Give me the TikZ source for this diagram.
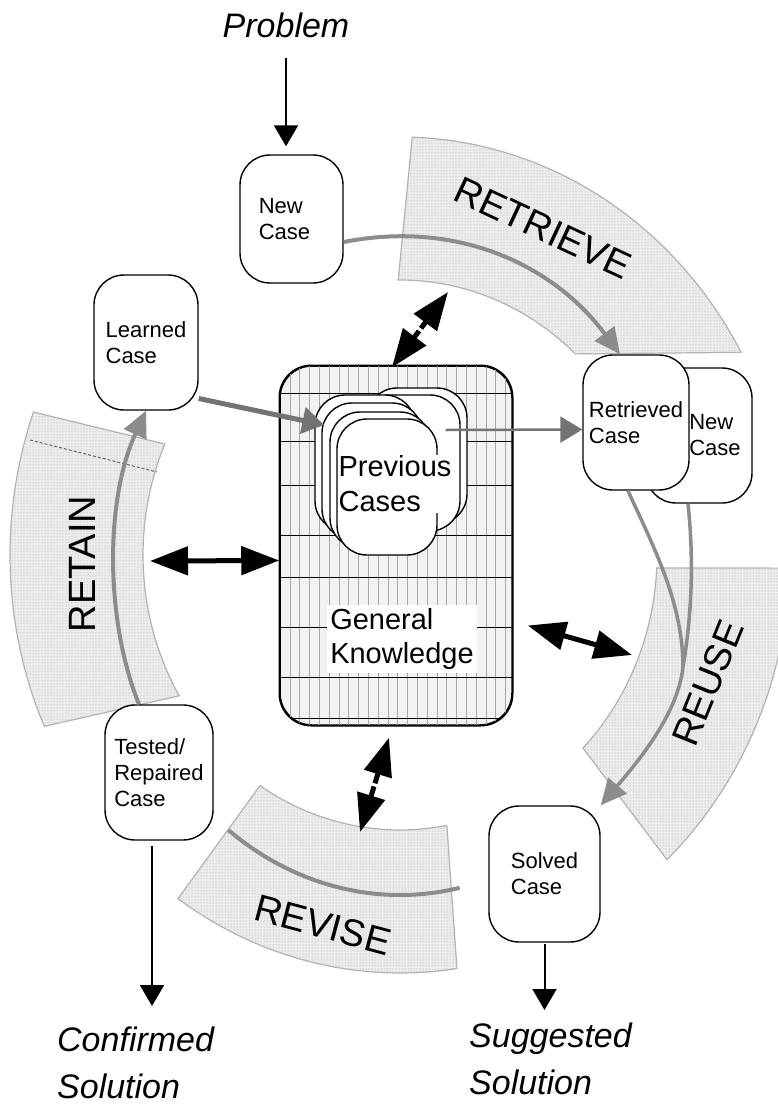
\documentclass[tikz,border=0pt]{standalone}
\usepackage{fontspec}
\setmainfont{Liberation Sans}
\usetikzlibrary{arrows.meta,calc,patterns}

\tikzset{
  caixa/.style={draw, line width=1.4pt, rounded corners=30pt, fill=white,
    align=left, font=\fontsize{22}{26}\selectfont},
  pilha/.style={draw, line width=1.4pt, rounded corners=30pt, fill=white,
    minimum width=100pt, minimum height=136pt},
  faixa/.style={preaction={fill=black!7}, pattern=dots, pattern color=black!40,
    draw=black!30, line width=1.2pt},
  fluxo/.style={draw=black!45, line width=4pt},
  pontafluxo/.style={-{Triangle[length=26pt,width=24pt]}},
  seta/.style={draw=black!55, -{Triangle[length=22pt,width=26pt]}},
  saida/.style={line width=2pt, -{Triangle[length=21pt,width=24pt]}},
  duplo/.style={line width=5pt, {Triangle[length=38pt,width=28pt]}-{Triangle[length=38pt,width=28pt]}},
  rotulo/.style={font=\fontsize{38}{38}\selectfont},
  texto/.style={font=\itshape\fontsize{34}{47}\selectfont, align=left, inner sep=0pt},
}

\begin{document}
\begin{tikzpicture}[x=1pt, y=-1pt]
  \useasboundingbox (0,0) rectangle (777,1107);

  %faixas do ciclo
  \begin{scope}[shift={(400,555)}, yscale=-1]
    \path[faixa] (88.2:390 and 418) arc[start angle=88.2, end angle=29, x radius=390, y radius=418]
      -- (47:257 and 275) arc[start angle=47, end angle=90.4, x radius=257, y radius=275] -- cycle;
    \path[faixa] (-1.8:390 and 418) arc[start angle=-1.8, end angle=-46.8, x radius=390, y radius=418]
      -- (-44.6:257 and 275) arc[start angle=-44.6, end angle=-2.7, x radius=257, y radius=275] -- cycle;
    \path[faixa] (-124.7:390 and 418) arc[start angle=-124.7, end angle=-81.6, x radius=390, y radius=418]
      -- (-79.5:257 and 275) arc[start angle=-79.5, end angle=-123, x radius=257, y radius=275] -- cycle;
    \path[faixa] (160:390 and 418) arc[start angle=160, end angle=204.2, x radius=390, y radius=418]
      -- (210.8:257 and 275) arc[start angle=210.8, end angle=156.2, x radius=257, y radius=275] -- cycle;
    %linha do revise
    \draw[fluxo] (-126:292 and 340) arc[start angle=-126, end angle=-78.2, x radius=292, y radius=340];
  \end{scope}
  \draw[black!60, line width=1pt, dash pattern=on 3pt off 2pt] (30,440) -- (157,472);

  \node[rotulo, rotate=-25] (retrieve) at (543,228) {RETRIEVE};
  \node[rotulo, rotate=68] (reuse) at (708,683) {REUSE};
  \node[rotulo, rotate=-15] (revise) at (323,925) {REVISE};
  \node[rotulo, rotate=90] (retain) at (82,564) {RETAIN};

  %conhecimento geral
  \node[draw, line width=1.5pt, rounded corners=32pt, fill=black!5,
    minimum width=232pt, minimum height=359pt] (gk) at (396,545.5) {};
  \begin{scope}
    \clip[rounded corners=32pt] (gk.north west) rectangle (gk.south east);
    \foreach \x in {290,299.8,...,507} \draw[black!35, line width=0.8pt] (\x,366) -- (\x,725);
    \foreach \y in {393,441,485,535,577,627,677,718} \draw[line width=1pt] (280,\y) -- (512,\y);
  \end{scope}
  \draw[line width=1.5pt, rounded corners=32pt] (gk.north west) rectangle (gk.south east);
  \node[font=\fontsize{29}{34}\selectfont, align=left, fill=white, inner sep=3pt] (gklabel) at (402,639) {General\\Knowledge};

  %casos anteriores
  \node[pilha] (prev1) at (417,456) {};
  \node[pilha] (prev2) at (410,463) {};
  \node[pilha] (prev3) at (365,463) {};
  \node[pilha] (prev4) at (372,471) {};
  \node[pilha] (prev5) at (380,480) {};
  \node[pilha] (prev6) at (387,487) {};
  \node[font=\fontsize{29}{35}\selectfont, align=left, fill=white, inner sep=1pt] (prevlabel) at (395,484) {Previous\\Cases};

  %caixas
  \node[caixa, minimum width=103pt, minimum height=128pt] (newcase) at (291.5,219) {New\hspace*{14pt}\\Case\hspace*{14pt}};
  \node[caixa, minimum width=104pt, minimum height=135pt] (learned) at (146,342.5) {Learned\\Case};
  \node[caixa, minimum width=106pt, minimum height=135pt] (newcase2) at (699,435.5) {\hspace*{32pt}New\\\hspace*{32pt}Case};
  \node[caixa, minimum width=106pt, minimum height=135pt] (retrieved) at (636,422.5) {Retrieved\\Case};
  \node[caixa, minimum width=108pt, minimum height=135pt] (tested) at (159,772.5) {Tested/\\Repaired\\Case};
  \node[caixa, minimum width=111pt, minimum height=136pt] (solved) at (544.5,874) {Solved\\Case};

  %textos de fora
  \node[texto, anchor=base] (problem) at (286,38) {Problem};
  \node[texto, anchor=north west] (confirmed) at (57,1027) {Confirmed\\Solution};
  \node[texto, anchor=north west] (suggested) at (469,1023) {Suggested\\Solution};

  \draw[saida, shorten <=19pt, shorten >=8pt] (problem.south) -- (problem.south |- newcase.north);
  \draw[saida, shorten <=5pt, shorten >=21pt] ([xshift=-7pt]tested.south) -- ([xshift=-7pt]tested.south |- confirmed.north);
  \draw[saida, shorten <=1pt, shorten >=13pt] (solved.south) -- (solved.south |- suggested.north);

  %fluxo do ciclo
  \draw[fluxo, pontafluxo] ([yshift=-23pt]newcase.east) .. controls (455,220) and (552,263) .. ([xshift=-16pt]retrieved.north);
  \coordinate (merge) at (683,667);
  \draw[fluxo, line width=3.5pt] ([xshift=-8pt]retrieved.south) .. controls (650,540) and (683,600) .. (merge);
  \draw[fluxo, line width=3.5pt] ([xshift=-11pt]newcase2.south) .. controls (695,570) and (690,625) .. (merge);
  \draw[fluxo, line width=3.5pt, pontafluxo] (merge) .. controls (678,715) and (635,765) .. (solved.north east);
  \draw[fluxo, pontafluxo] ([xshift=-20pt]tested.north) .. controls (105,620) and (105,500) .. (learned.south);

  \draw[seta, line width=5pt] ([yshift=-56pt]learned.east) -- ([xshift=10pt,yshift=38pt]prev3.west);
  \draw[seta, line width=2.5pt] ([xshift=8pt,yshift=57pt]prev6.east) -- ([yshift=-7pt]retrieved.west);

  %setas duplas
  \coordinate (gktop) at ([xshift=-4pt,yshift=-2pt]gk.north);
  \coordinate (gkbottom) at ([xshift=-7pt,yshift=-12pt]gk.south);
  \coordinate (retrievein) at (448,292);
  \coordinate (retainin) at (150,561);
  \coordinate (reusein) at (632,655);
  \coordinate (revisein) at (360,832);
  \draw[duplo] (gktop) -- (retrievein);
  \draw[duplo] (retainin) -- ([yshift=-15pt]gk.west);
  \draw[duplo] ([xshift=15pt,yshift=-80pt]gk.east) -- (reusein);
  \draw[duplo] (gkbottom) -- (revisein);
  \draw[white, line width=3pt] ($(gktop)!0.5!(retrievein)+(-7,-5)$) -- ($(gktop)!0.5!(retrievein)+(7,5)$);
  \draw[white, line width=3pt] ($(gkbottom)!0.5!(revisein)+(-8.5,-2.6)$) -- ($(gkbottom)!0.5!(revisein)+(8.5,2.6)$);
\end{tikzpicture}
\end{document}
